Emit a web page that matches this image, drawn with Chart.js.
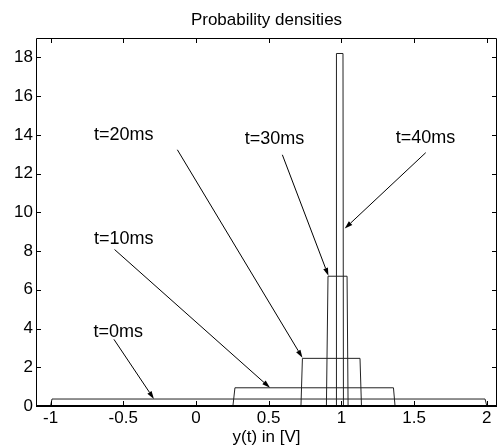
<!DOCTYPE html>
<html>
<head>
<meta charset="utf-8">
<script src="https://cdn.jsdelivr.net/npm/chart.js@4"></script>
<style>
  html, body { margin: 0; padding: 0; background: #fff; }
  canvas { display: block; }
</style>
</head>
<body>
<canvas id="density" width="498" height="446"></canvas>
<script>
// pulse shapes (x in V, height = density)
const pulseNames = ["t=0ms", "t=10ms", "t=20ms", "t=30ms", "t=40ms"];
const leftBottom = [-1.0, 0.254, 0.722, 0.897, 0.963];
const leftTop = [-0.99, 0.268, 0.732, 0.908, 0.966];
const rightTop = [1.988, 1.358, 1.128, 1.039, 1.011];
const rightBottom = [2.0, 1.369, 1.138, 1.046, 1.014];
const heights = [0.36, 0.94, 2.46, 6.7, 18.2];

// annotation text positions and arrows (data coords)
const labelX = [-0.704, -0.702, -0.702, 0.335, 1.374];
const labelY = [3.83, 8.64, 13.97, 13.8, 13.81];
const arrowFromX = [-0.564, -0.56, -0.128, 0.594, 1.58];
const arrowFromY = [3.44, 8.08, 13.23, 12.97, 13.08];
const arrowToX = [-0.289, 0.509, 0.732, 0.911, 1.023];
const arrowToY = [0.36, 0.94, 2.49, 6.72, 9.16];

const xTicks = [-1, -0.5, 0, 0.5, 1, 1.5, 2];
const yTicks = [0, 2, 4, 6, 8, 10, 12, 14, 16, 18];

const chartTitle = "Probability densities";

const FONT = "'Liberation Sans', Arial, sans-serif";
Chart.defaults.color = "#000";
Chart.defaults.font.family = FONT;
Chart.defaults.font.size = 17;

const datasets = pulseNames.map((name, i) => ({
  label: name,
  data: [
    { x: leftBottom[i], y: 0 },
    { x: leftTop[i], y: heights[i] },
    { x: rightTop[i], y: heights[i] },
    { x: rightBottom[i], y: 0 },
  ],
  borderColor: "#222",
  borderWidth: 1,
  pointRadius: 0,
  fill: false,
  tension: 0,
}));

// box, inward ticks, arrows and labels in the matlab style
const matlabBox = {
  id: "matlabBox",
  afterDatasetsDraw(chart) {
    const { ctx, chartArea: a, scales: { x, y } } = chart;
    ctx.save();
    ctx.strokeStyle = "#000";
    ctx.fillStyle = "#000";
    ctx.lineWidth = 1;

    ctx.beginPath();
    ctx.moveTo(a.left + 0.5, a.bottom);
    ctx.lineTo(a.left + 0.5, a.top + 0.5);
    ctx.lineTo(a.right - 0.5, a.top + 0.5);
    ctx.lineTo(a.right - 0.5, a.bottom);
    xTicks.forEach(v => {
      const px = Math.round(x.getPixelForValue(v)) + 0.5;
      ctx.moveTo(px, a.bottom);
      ctx.lineTo(px, a.bottom - 5);
      ctx.moveTo(px, a.top);
      ctx.lineTo(px, a.top + 5);
    });
    yTicks.forEach(v => {
      const py = Math.round(y.getPixelForValue(v)) + 0.5;
      ctx.moveTo(a.left, py);
      ctx.lineTo(a.left + 5, py);
      ctx.moveTo(a.right, py);
      ctx.lineTo(a.right - 5, py);
    });
    ctx.stroke();

    ctx.lineWidth = 2;
    ctx.beginPath();
    ctx.moveTo(a.left, a.bottom);
    ctx.lineTo(a.right, a.bottom);
    ctx.stroke();

    // title centred over the axes, like matlab does
    ctx.font = "17px " + FONT;
    ctx.textAlign = "center";
    ctx.textBaseline = "middle";
    ctx.fillText(chartTitle, (a.left + a.right) / 2, a.top - 17.5);

    // arrows
    ctx.lineWidth = 1;
    pulseNames.forEach((name, i) => {
      const x0 = x.getPixelForValue(arrowFromX[i]);
      const y0 = y.getPixelForValue(arrowFromY[i]);
      const x1 = x.getPixelForValue(arrowToX[i]);
      const y1 = y.getPixelForValue(arrowToY[i]);
      const ang = Math.atan2(y1 - y0, x1 - x0);
      const len = 8, half = 2.5;
      const bx = x1 - len * Math.cos(ang), by = y1 - len * Math.sin(ang);
      ctx.beginPath();
      ctx.moveTo(x0, y0);
      ctx.lineTo(bx, by);
      ctx.stroke();
      ctx.beginPath();
      ctx.moveTo(x1, y1);
      ctx.lineTo(bx + half * Math.sin(ang), by - half * Math.cos(ang));
      ctx.lineTo(bx - half * Math.sin(ang), by + half * Math.cos(ang));
      ctx.closePath();
      ctx.fill();

      ctx.font = "18px " + FONT;
      ctx.textAlign = "left";
      ctx.textBaseline = "middle";
      ctx.fillText(name, x.getPixelForValue(labelX[i]), y.getPixelForValue(labelY[i]));
    });
    ctx.restore();
  },
};

new Chart(document.getElementById("density"), {
  type: "line",
  data: { datasets },
  options: {
    responsive: false,
    animation: false,
    layout: { padding: { top: 38, right: 1 } },
    plugins: {
      legend: { display: false },
      tooltip: { enabled: false },
      title: { display: false },
    },
    scales: {
      x: {
        type: "linear",
        min: -1.1,
        max: 2.07,
        grid: { display: false, drawTicks: false },
        border: { display: false },
        afterBuildTicks: s => { s.ticks = xTicks.map(v => ({ value: v })); },
        afterFit: s => { s.height = 40; },
        ticks: { padding: 2, callback: v => String(v) },
        title: {
          display: true,
          text: "y(t) in [V]",
          font: { size: 17, lineHeight: 1 },
          padding: 0,
        },
      },
      y: {
        type: "linear",
        min: 0,
        max: 19,
        grid: { display: false, drawTicks: false },
        border: { display: false },
        afterBuildTicks: s => { s.ticks = yTicks.map(v => ({ value: v })); },
        afterFit: s => { s.width = 36; },
        ticks: { padding: 3, callback: v => String(v) },
      },
    },
  },
  plugins: [matlabBox],
});
</script>
</body>
</html>
